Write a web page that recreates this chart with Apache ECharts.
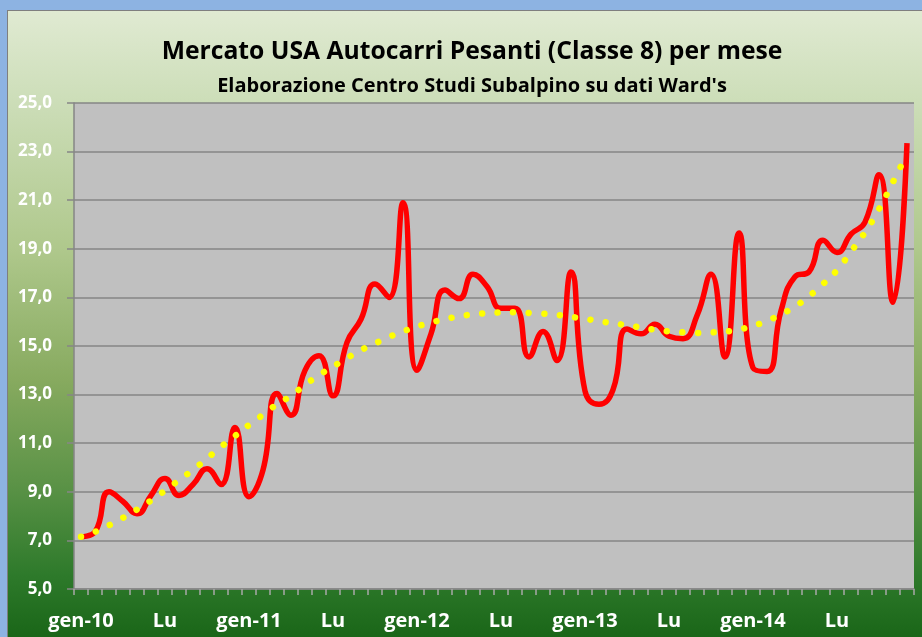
<!DOCTYPE html>
<html>
<head>
<meta charset="utf-8">
<script src="https://cdn.jsdelivr.net/npm/echarts@6/dist/echarts.min.js"></script>
<style>
html,body{margin:0;padding:0;width:922px;height:637px;overflow:hidden;background:#8db3e2;}
#frame{position:absolute;left:7px;top:10px;width:915px;height:627px;border-top:1px solid #7f7f7f;border-left:1px solid #7f7f7f;}
#chart{position:absolute;left:0;top:0;width:914px;height:626px;}
</style>
</head>
<body>
<div id="frame"><div id="chart"></div></div>
<script>
// ---- data ----
const categories = [
  "gen-10","feb-10","mar-10","apr-10","mag-10","giu-10","Lu","ago-10","set-10","ott-10","nov-10","dic-10",
  "gen-11","feb-11","mar-11","apr-11","mag-11","giu-11","Lu","ago-11","set-11","ott-11","nov-11","dic-11",
  "gen-12","feb-12","mar-12","apr-12","mag-12","giu-12","Lu","ago-12","set-12","ott-12","nov-12","dic-12",
  "gen-13","feb-13","mar-13","apr-13","mag-13","giu-13","Lu","ago-13","set-13","ott-13","nov-13","dic-13",
  "gen-14","feb-14","mar-14","apr-14","mag-14","giu-14","Lu","ago-14","set-14","ott-14","nov-14","dic-14"
];
const sales = [
  7.15, 7.35, 9.0, 8.6, 8.1, 8.85, 9.55, 8.85, 9.3, 9.95, 9.3, 11.65,
  8.8, 9.9, 13.05, 12.15, 14.0, 14.6, 12.95, 15.15, 16.1, 17.55, 17.0, 20.9,
  14.0, 15.5, 17.3, 16.95, 17.95, 17.45, 16.55, 16.55, 14.55, 15.6, 14.4, 18.05,
  13.15, 12.6, 13.2, 15.7, 15.5, 15.9, 15.4, 15.3, 16.25, 17.95, 14.55, 19.65,
  14.1, 13.95, 16.45, 17.85, 18.05, 19.35, 18.85, 19.6, 20.1, 22.05, 16.8, 23.35
];
const trend = [
  7.15, 7.35, 7.62, 7.93, 8.27, 8.64, 9.05, 9.48, 9.9, 10.37, 10.85, 11.3,
  11.75, 12.17, 12.6, 12.95, 13.4, 13.8, 14.15, 14.5, 14.83, 15.1, 15.37, 15.6,
  15.8, 15.97, 16.1, 16.22, 16.3, 16.35, 16.38, 16.39, 16.36, 16.33, 16.28, 16.2,
  16.12, 16.02, 15.94, 15.85, 15.76, 15.67, 15.6, 15.56, 15.54, 15.56, 15.59, 15.68,
  15.83, 16.03, 16.3, 16.62, 17.05, 17.55, 18.12, 18.88, 19.68, 20.63, 21.75, 22.9
];
const titleText = "Mercato USA Autocarri Pesanti (Classe 8) per mese";
const subtitleText = "Elaborazione Centro Studi Subalpino su dati Ward's";
const yMin = 5, yMax = 25, yStep = 2;

// ---- chart ----
const FONT = "Open Sans";
const chart = echarts.init(document.getElementById('chart'), null, {renderer: 'canvas'});
chart.setOption({
  animation: false,
  backgroundColor: {
    type: 'linear', x: 0, y: 0, x2: 0, y2: 1,
    colorStops: [
      {offset: 0, color: '#e0ead2'},
      {offset: 0.14, color: '#cddeb9'},
      {offset: 0.38, color: '#afc88c'},
      {offset: 0.59, color: '#87aa5f'},
      {offset: 0.76, color: '#5a9246'},
      {offset: 0.9, color: '#2e7a2b'},
      {offset: 1, color: '#1a6618'}
    ]
  },
  title: [
    {text: titleText, left: 459, top: 23, textAlign: 'center',
     textStyle: {fontFamily: FONT, fontWeight: 'bold', fontSize: 24.7, color: '#000'}},
    {text: subtitleText, left: 459, top: 60, textAlign: 'center',
     textStyle: {fontFamily: FONT, fontWeight: 'bold', fontSize: 20, color: '#000'}}
  ],
  grid: {left: 66, right: 8, top: 92, bottom: 48, show: true, backgroundColor: '#c0c0c0', borderWidth: 0},
  xAxis: {
    type: 'category', data: categories, boundaryGap: true,
    axisLine: {lineStyle: {color: '#868686', width: 1.5}},
    axisTick: {show: true, interval: 0, length: 6, lineStyle: {color: '#a8a8a8', width: 1.5}},
    axisLabel: {interval: 5, color: '#fff', fontFamily: FONT, fontWeight: 'bold', fontSize: 20, margin: 22},
    splitLine: {show: false}
  },
  yAxis: {
    type: 'value', min: yMin, max: yMax, interval: yStep,
    axisLine: {show: true, lineStyle: {color: '#868686', width: 1.5}},
    axisTick: {show: true, length: 7, lineStyle: {color: '#868686', width: 1.5}},
    axisLabel: {color: '#fff', fontFamily: FONT, fontWeight: 'bold', fontSize: 17, margin: 22,
      formatter: v => v.toFixed(1).replace('.', ',')},
    splitLine: {lineStyle: {color: '#868686', width: 1.5}}
  },
  series: [
    {type: 'line', data: sales, smooth: 0.5, symbol: 'none',
     lineStyle: {color: '#ff0000', width: 5.5}},
    {type: 'line', data: trend, smooth: true, symbol: 'none',
     lineStyle: {color: '#ffff00', width: 6.5, type: [0.01, 15.5], cap: 'round'}}
  ]
});
</script>
</body>
</html>
